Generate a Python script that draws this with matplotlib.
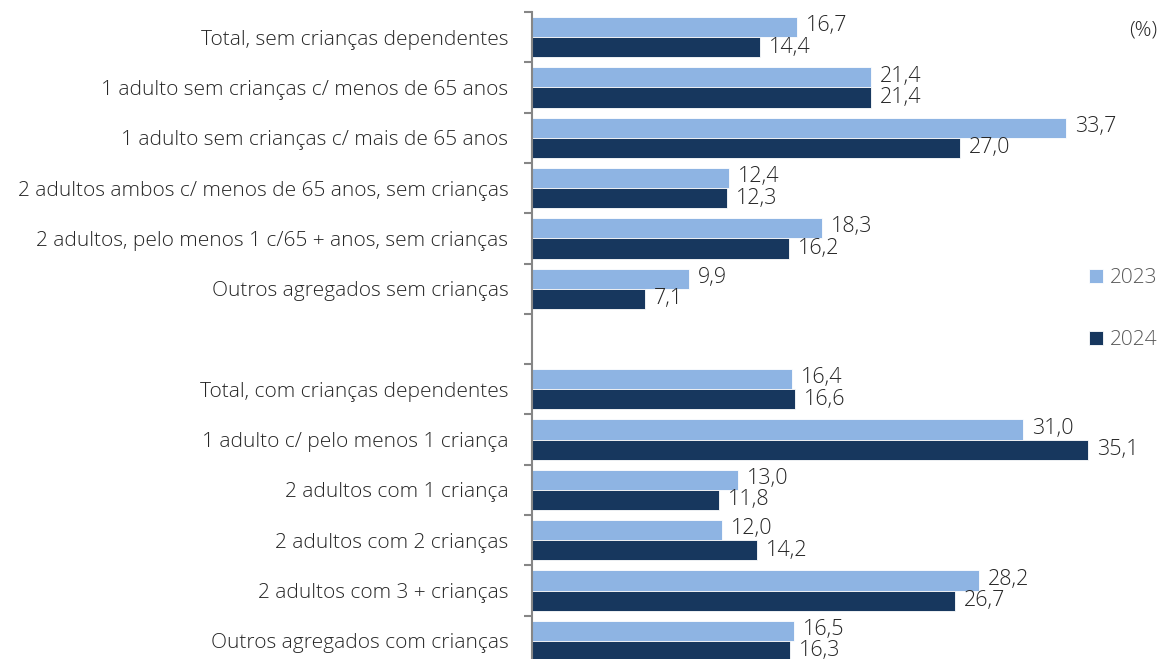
import numpy as np
import matplotlib
matplotlib.use('Agg')
import matplotlib.pyplot as plt

#------------------------------------------------------------------------------#
# Data
categories = ['Total, sem crianças dependentes',
              '1 adulto sem crianças c/ menos de 65 anos',
              '1 adulto sem crianças c/ mais de 65 anos',
              '2 adultos ambos c/ menos de 65 anos, sem crianças',
              '2 adultos, pelo menos 1 c/65 + anos, sem crianças',
              'Outros agregados sem crianças',
              '',
              'Total, com crianças dependentes',
              '1 adulto c/ pelo menos 1 criança',
              '2 adultos com 1 criança',
              '2 adultos com 2 crianças',
              '2 adultos com 3 + crianças',
              'Outros agregados com crianças']
v2023 = [16.7, 21.4, 33.7, 12.4, 18.3, 9.9, np.nan,
         16.4, 31.0, 13.0, 12.0, 28.2, 16.5]
v2024 = [14.4, 21.4, 27.0, 12.3, 16.2, 7.1, np.nan,
         16.6, 35.1, 11.8, 14.2, 26.7, 16.3]
years = ['2023', '2024']

#------------------------------------------------------------------------------#

plt.rcParams['font.family'] = ['Open Sans', 'DejaVu Sans']
c_light = '#8EB4E3'
c_dark  = '#17375E'

def fmt(v):
    return ('%.1f' % v).replace('.', ',')

def main():
    fig = plt.figure(figsize=(11.57, 6.59), dpi=100)
    ax = fig.add_axes([532/1157, -7/659, 1 - 532/1157, 654/659])

    y = np.arange(len(categories))
    h = 0.4
    ax.barh(y - h/2, v2023, height=h, color=c_light, edgecolor='white',
            linewidth=0.6, label=years[0])
    ax.barh(y + h/2, v2024, height=h, color=c_dark, edgecolor='white',
            linewidth=0.6, label=years[1])

    # value labels
    for i in range(len(categories)):
        if np.isnan(v2023[i]):
            continue
        ax.annotate(fmt(v2023[i]), (v2023[i], y[i] - h/2), xytext=(6.5, 1),
                    textcoords='offset points', va='center', ha='left',
                    fontsize=15.5, color='#262626', fontweight='light')
        ax.annotate(fmt(v2024[i]), (v2024[i], y[i] + h/2), xytext=(6.5, 0),
                    textcoords='offset points', va='center', ha='left',
                    fontsize=15.5, color='#262626', fontweight='light')

    ax.set_xlim(0, 625/15.85)
    ax.set_ylim(len(categories) - 0.5, -0.5)
    ax.set_yticks(y)
    ax.set_yticklabels(categories, fontsize=15, color='#262626', fontweight='light')
    ax.set_yticks(np.arange(len(categories) + 1) - 0.5, minor=True)
    ax.tick_params(axis='y', which='major', length=0, pad=17)
    ax.tick_params(axis='y', which='minor', length=6, width=1.5, color='#868686')
    ax.set_xticks([])
    for s in ['top', 'right', 'bottom']:
        ax.spines[s].set_visible(False)
    ax.spines['left'].set_color('#868686')
    ax.spines['left'].set_linewidth(1.5)

    # Legend
    leg = ax.legend(loc='upper left', bbox_to_anchor=(1079/1157, 1 - 258/659),
                    bbox_transform=fig.transFigure, frameon=False,
                    fontsize=15, handlelength=0.65, handleheight=0.65,
                    handletextpad=0.35, labelspacing=2.0, borderpad=0)
    for t in leg.get_texts():
        t.set_color('#595959')
        t.set_fontweight('light')

    fig.text(1129/1157, 1 - 31/659, '(%)', fontsize=15, color='#262626',
             va='center', ha='left', fontweight='light')

    fig.savefig('out.png', dpi=100)

if __name__ == '__main__':
    main()
